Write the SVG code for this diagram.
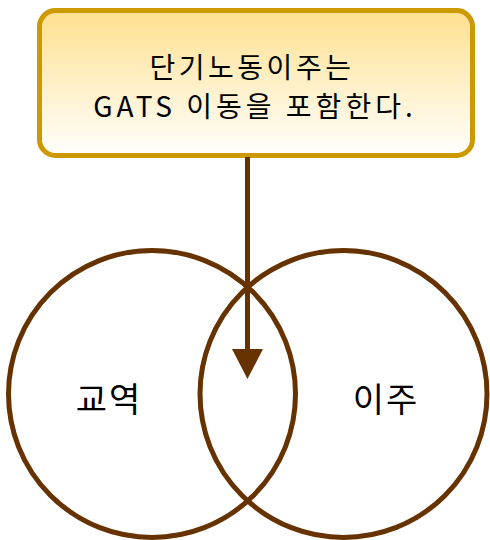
<svg xmlns="http://www.w3.org/2000/svg" width="490" height="540" viewBox="0 0 490 540">
<style>
.circ{fill:none;stroke:#663300;stroke-width:5}
.t{font-family:"Noto Sans CJK KR","Noto Sans",sans-serif;fill:#000;text-anchor:middle}
</style>
<defs>
<linearGradient id="g" x1="0" y1="0" x2="0" y2="1">
<stop offset="0" stop-color="#FFE08E"/>
<stop offset="1" stop-color="#FFFFFF"/>
</linearGradient>
</defs>
<g id="trade"><circle class="circ" cx="152" cy="394" r="143.5"/><text class="t" x="109" y="412" font-size="34" letter-spacing="2">교역</text></g>
<g id="migration"><circle class="circ" cx="343.5" cy="394" r="143.5"/><text class="t" x="386" y="412" font-size="34" letter-spacing="2">이주</text></g>
<g id="note">
<rect x="39.5" y="10.5" width="433" height="145" rx="16" fill="url(#g)" stroke="#CC9900" stroke-width="5"/>
<text class="t" x="252" y="78" font-size="28" letter-spacing="3.5">단기노동이주는</text>
<text class="t" x="255" y="117" font-size="28" letter-spacing="4">GATS 이동을 포함한다.</text>
</g>
<g id="connectors">
<line x1="247.5" y1="157" x2="247.5" y2="352" stroke="#663300" stroke-width="5"/>
<polygon points="232,349 263,349 247.5,379" fill="#663300"/>
</g>
</svg>
